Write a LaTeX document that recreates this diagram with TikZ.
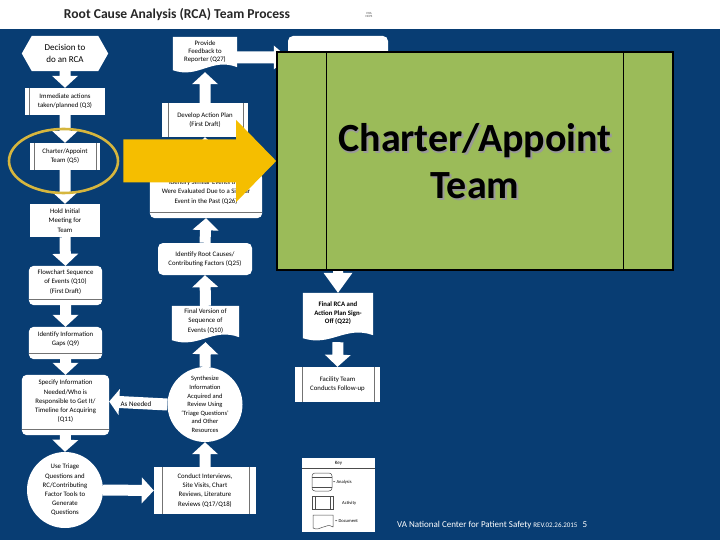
\documentclass[tikz,border=0pt]{standalone}
\usepackage{fontspec}
\setmainfont{Carlito}
\usetikzlibrary{calc,shapes.geometric}
\definecolor{vablue}{RGB}{8,61,115}
\definecolor{gold}{RGB}{245,190,0}
\definecolor{ringc}{RGB}{214,182,62}
\definecolor{olive}{RGB}{155,187,89}
\pgfdeclarelayer{back}\pgfdeclarelayer{bg}\pgfsetlayers{back,bg,main}
% color, half shaft, half head, head length, from, to
\newcommand\blockarr[6]{%
 \path (#5) coordinate (ba-s) (#6) coordinate (ba-e);
 \path ($(ba-e)!#4!(ba-s)$) coordinate (ba-h);
 \fill[#1] ($(ba-s)!#2!90:(ba-e)$) -- ($(ba-h)!#2!-90:(ba-s)$) -- ($(ba-h)!#3!-90:(ba-s)$) -- (ba-e) -- ($(ba-h)!#3!90:(ba-s)$) -- ($(ba-h)!#2!90:(ba-s)$) -- ($(ba-s)!#2!-90:(ba-e)$) -- cycle;}
\newcommand\barr[2]{\blockarr{white}{5.5pt}{13pt}{12pt}{#1}{#2}}
\newcommand\docfill[1]{\fill[white] (#1.north west) -- (#1.north east) -- ($(#1.south east)+(0,1)$) .. controls ($(#1.south east)!0.4!(#1.south west)+(0,-9)$) and ($(#1.south west)!0.4!(#1.south east)+(0,13)$) .. ($(#1.south west)+(0,4)$) -- cycle;}
\newcommand\anafill[1]{\fill[white,rounded corners=5pt] (#1.north west) rectangle ($(#1.south east)+(0,7)$);}
\newcommand\analine[1]{\draw[inln] ($(#1.south west)+(0,1.5)$) -- ($(#1.south east)+(0,1.5)$);}
\newcommand\actlines[3]{\draw[inln] ($(#1.north west)+(#2,0)$) -- ($(#1.south west)+(#2,0)$); \draw[inln] ($(#1.north east)+(-#3,0)$) -- ($(#1.south east)+(-#3,0)$);}
\begin{document}
\begin{tikzpicture}[x=1pt,y=-1pt,
  lbl/.style={align=center,font=\fontsize{6.8}{9.2}\selectfont,inner sep=0pt,text=black},
  act/.style={lbl,rectangle,fill=white},
  rnd/.style={lbl,circle,fill=white,inner sep=-14pt,minimum size=#1},
  inln/.style={draw=black!55,line width=0.6pt},
  keytxt/.style={font=\fontsize{4.6}{5.5}\selectfont,inner sep=0pt,anchor=west,text=black}]
\useasboundingbox (0,0) rectangle (720,540);
\begin{pgfonlayer}{back}
\fill[vablue] (0,29) rectangle (720,540);
\end{pgfonlayer}

% ---------- titles
\node[font=\bfseries\fontsize{13.6}{15}\selectfont,text=black!85] (title) at (177,15) {Root Cause Analysis (RCA) Team Process};
\node[align=center,font=\fontsize{3.2}{3.8}\selectfont,text=black!70] (logo) at (369,15) {VHA\\NCPS};

% ---------- left column
\node[lbl,font=\fontsize{9}{11.5}\selectfont,minimum width=86pt,minimum height=35pt] (dec) at (65,53.5) {Decision to\\do an RCA};
\node[act,minimum width=80pt,minimum height=27pt] (imm) at (65,101.5) {Immediate actions\\taken/planned (Q3)};
\node[act,minimum width=70pt,minimum height=27pt] (char) at (65,156.5) {Charter/Appoint\\Team (Q5)};
\node[act,minimum width=70pt,minimum height=33pt] (init) at (65,220.5) {Hold Initial\\Meeting for\\Team};
\node[lbl,minimum width=73pt,minimum height=32pt] (flow) at (65.5,282) {Flowchart Sequence\\of Events (Q10)\\(First Draft)};
\node[lbl,minimum width=73pt,minimum height=25pt] (gaps) at (65.5,339.5) {Identify Information\\Gaps (Q9)};
\node[lbl,minimum width=87pt,minimum height=53pt] (spec) at (65.5,401.5) {Specify Information\\Needed/Who is\\Responsible to Get It/\\Timeline for Acquiring\\(Q11)};
\node[rnd=76pt] (use) at (65,490) {Use Triage\\Questions and\\RC/Contributing\\Factor Tools to\\Generate\\Questions};

% ---------- middle column
\node[act,minimum width=102pt,minimum height=47pt] (conduct) at (205,490.5) {Conduct Interviews,\\Site Visits, Chart\\Reviews, Literature\\Reviews (Q17/Q18)};
\node[rnd=75pt,font=\fontsize{6.5}{8.6}\selectfont] (synth) at (205,404.5) {Synthesize\\Information\\Acquired and\\Review Using\\‘Triage Questions’\\and Other\\Resources};
\node[lbl,minimum width=67pt,minimum height=30pt] (final) at (205.5,321) {Final Version of\\Sequence of\\Events (Q10)};
\node[lbl,fill=white,rounded corners=5pt,minimum width=94pt,minimum height=32pt] (rc) at (205,259) {Identify Root Causes/\\Contributing Factors (Q25)};
\node[lbl,minimum width=112pt,minimum height=38pt] (sim) at (206,192) {Identify Similar Events that\\Were Evaluated Due to a Similar\\Event in the Past (Q26)};
\node[act,minimum width=86pt,minimum height=34pt] (dev) at (205,120) {Develop Action Plan\\(First Draft)};
\node[lbl,font=\fontsize{6.8}{8}\selectfont,minimum width=64pt,minimum height=29pt] (feed) at (205,51.5) {Provide\\Feedback to\\Reporter (Q27)};

% ---------- right column
\node[lbl,fill=white,rounded corners=5pt,minimum width=100pt,minimum height=39pt] (top) at (338,55.5) {};
\node[lbl,font=\bfseries\fontsize{6.8}{8.6}\selectfont,minimum width=70pt,minimum height=41pt] (signoff) at (338,313.5) {Final RCA and\\Action Plan Sign-\\Off (Q22)};
\node[act,minimum width=85pt,minimum height=35pt] (follow) at (337.5,384.5) {Facility Team\\Conducts Follow-up};

% ---------- shapes and connectors (background)
\begin{pgfonlayer}{bg}
 \fill[white] (dec.west) -- ($(dec.north west)+(10,0)$) -- ($(dec.north east)+(-10,0)$) -- (dec.east) -- ($(dec.south east)+(-10,0)$) -- ($(dec.south west)+(10,0)$) -- cycle;
 \anafill{flow}\anafill{gaps}\anafill{spec}\anafill{sim}
 \docfill{feed}\docfill{final}\docfill{signoff}
 \barr{dec.south}{imm.north}
 \barr{imm.south}{char.north}
 \barr{char.south}{init.north}
 \barr{init.south}{flow.north}
 \barr{flow.south}{gaps.north}
 \barr{gaps.south}{spec.north}
 \barr{spec.south}{use.north}
 \barr{use.east}{conduct.west}
 \barr{conduct.north}{synth.south}
 \barr{synth.north}{$(final.south)+(0,6)$}
 \barr{final.north}{rc.south}
 \barr{rc.north}{$(sim.south)+(0,7)$}
 \barr{sim.north}{dev.south}
 \barr{dev.north}{$(feed.south)+(0,6)$}
 \blockarr{white}{6pt}{12pt}{14pt}{$(feed.east)+(0,6)$}{$(top.west)+(0,2)$}
 \blockarr{white}{5pt}{14.5pt}{20pt}{top.south}{signoff.north}
 \barr{$(signoff.south)+(0,8)$}{follow.north}
 \blockarr{white}{6pt}{13pt}{10pt}{synth.west}{spec.east}
\end{pgfonlayer}
\node[lbl,font=\fontsize{7}{8}\selectfont] (asn) at (136,404) {As Needed};

% inner lines
\analine{flow}\analine{gaps}\analine{spec}\analine{sim}
\draw[inln] ($(imm.north west)+(4,0)$) -- ($(imm.south west)+(4,0)$);
\actlines{char}{4pt}{4pt}
\actlines{dev}{6pt}{5pt}
\actlines{conduct}{8pt}{7pt}
\actlines{follow}{7pt}{6pt}

% ---------- key
\node[fill=white,minimum width=73pt,minimum height=74pt,inner sep=0] (key) at (338.5,495) {};
\node[font=\fontsize{5}{6}\selectfont,inner sep=0] (keyt) at (338.5,463) {Key};
\draw[black!70,line width=0.5pt] ($(key.north west)+(0,10)$) -- ($(key.north east)+(0,10)$);
\draw[black!70,line width=0.5pt,rounded corners=3pt] (312,473) rectangle (332,491);
\draw[black!70,line width=0.5pt] (312,477) -- (332,477) (312,487) -- (332,487);
\draw[black!70,line width=0.5pt] (312,496) rectangle (333,509) (315,496) -- (315,509) (330,496) -- (330,509);
\draw[black!70,line width=0.5pt] (333,527) -- (333,515) -- (313,515) -- (313,528) .. controls (320,532) and (326,522) .. (333,527);
\node[keytxt] (k1) at (333,482) {= Analysis};
\node[keytxt] (k2) at (342,503) {Activity};
\node[keytxt] (k3) at (335,521) {= Document};

% ---------- highlight
\node[draw=ringc,line width=2.6pt,ellipse,minimum width=109pt,minimum height=64pt,inner sep=0] (hl) at (63.5,161) {};
\node[fill=olive,draw=black,line width=1.6pt,minimum width=396pt,minimum height=218pt,inner sep=0] (green) at (475,161) {};
\draw[line width=1.2pt] ($(green.north west)+(50,0)$) -- ($(green.south west)+(50,0)$);
\draw[line width=1.2pt] ($(green.north east)+(-50,0)$) -- ($(green.south east)+(-50,0)$);
\node[align=center,font=\bfseries\fontsize{40}{47}\selectfont,text=black!40] (gsh) at (476.5,163) {Charter/Appoint\\Team};
\node[align=center,font=\bfseries\fontsize{40}{47}\selectfont,text=black] (gtxt) at (475,161.5) {Charter/Appoint\\Team};
\blockarr{gold}{21.5pt}{41pt}{40pt}{$(hl.east)+(4,0)$}{green.west}

% ---------- footer
\node[anchor=west,text=white,font=\fontsize{9}{10}\selectfont,inner sep=0] (foot) at (397,525) {VA National Center for Patient Safety {\fontsize{7}{8}\selectfont REV.02.26.2015}\hspace{5pt}5};
\end{tikzpicture}
\end{document}
